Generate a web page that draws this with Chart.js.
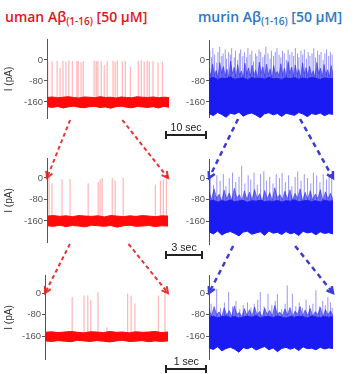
<!DOCTYPE html>
<html>
<head>
<meta charset="utf-8">
<script src="https://cdn.jsdelivr.net/npm/chart.js@4.4.0/dist/chart.umd.min.js"></script>
<style>
  html, body { margin: 0; padding: 0; background: #fff; }
  body { width: 360px; height: 374px; overflow: hidden; position: relative; font-family: "Liberation Sans", Arial, sans-serif; }
  canvas.panel { position: absolute; }
  #overlay { position: absolute; left: 0; top: 0; pointer-events: none; }
  .title { position: absolute; top: 9px; font-family: "Open Sans", sans-serif; font-weight: 600; font-size: 14px; line-height: 16px; white-space: nowrap; }
  .title span.sub { font-size: 10px; position: relative; top: 3px; }
  .sbar { position: absolute; height: 2px; background: #222; }
  .sbar::before, .sbar::after { content: ""; position: absolute; top: -3px; width: 2px; height: 8px; background: #222; }
  .sbar::before { left: 0; }
  .sbar::after { right: 0; }
  .slabel { position: absolute; text-align: center; font-size: 10.5px; color: #222; }
</style>
</head>
<body>
<div class="title" style="left:5px;color:#e3161c">uman Aβ<span class="sub">(1-16)</span> [50 µM]</div>
<div class="title" style="left:198px;color:#2b78c2">murin Aβ<span class="sub">(1-16)</span> [50 µM]</div>
<canvas id="overlay" width="360" height="374"></canvas>
<script>
// y ticks shown on every trace (pA)
const yTicks = [-160, -80, 0];

// ---- human Abeta, red traces: spike times (s), spike tips (pA), noise band edges (pA)
const redTopT = [0.2,1.2,2.4,3.1,3.8,4.5,5.2,6.0,7.1,7.4,8.1,8.6,11.2,11.7,12.1,12.9,13.6,14.3,15.7,16.2,16.7,17.9,18.6,19.8,21.7,22.4,23.1,23.8,24.3,25.2,26.4,27.4];
const redTopY = [-2,-5,-4,-30,-3,-6,-2,-4,-5,-3,-8,-4,-2,-6,-3,-5,-20,-4,-3,-7,-2,-5,-3,-25,-4,-2,-6,-3,-5,-4,-10,-6];
const redTopHi = [-143,-141,-144,-142,-140,-143,-145,-141,-142,-144,-140,-143,-142,-145,-141,-143,-144,-140,-142,-143,-141,-144,-142,-143];
const redTopLo = [-178,-181,-177,-183,-179,-176,-180,-182,-178,-177,-181,-179,-184,-178,-176,-180,-182,-177,-179,-181,-178,-183,-177,-180];

const redMidT = [0.16,0.39,1.18,1.81,3.23,4.02,4.17,4.33,5.12,5.35,5.98,8.5,8.9,9.13,9.37];
const redMidY = [3,-20,-5,-5,-20,-15,-5,0,0,-10,0,-25,-10,-5,0];
const redMidHi = [-142,-140,-143,-141,-144,-140,-142,-143,-141,-145,-140,-142,-144,-141,-143,-140,-142,-144,-141,-142];
const redMidLo = [-178,-180,-176,-181,-177,-179,-182,-176,-178,-180,-177,-183,-178,-176,-180,-179,-177,-181,-178,-179];

const redBotT = [0.64,0.92,1.01,1.08,1.25,1.46,1.95,2.03,2.12,2.67,2.83];
const redBotY = [-15,-9,-9,-27,4,-128,-2,-9,-39,-9,4];
const redBotHi = [-146,-144,-147,-145,-143,-146,-148,-144,-145,-147,-143,-146,-145,-148,-144,-146,-145,-143,-147,-145];
const redBotLo = [-178,-180,-177,-179,-181,-176,-178,-180,-177,-179,-182,-178,-176,-180,-179,-177,-181,-178,-180,-178];

// ---- murine Abeta, blue traces (fringe = dense openings just above the band)
const blueTopT = [0.2,0.6,0.9,1.3,1.8,2.1,2.5,3.0,3.3,3.8,4.1,4.6,5.0,5.3,5.9,6.2,6.7,7.1,7.4,7.9,8.3,8.8,9.1,9.6,10.0,10.4,10.9,11.2,11.7,12.1,12.6,13.0,13.3,13.8,14.3,14.6,15.1,15.5,15.9,16.4,16.8,17.2,17.6,18.1,18.5,18.9,19.4,19.8,20.2,20.7,21.0,21.5,21.9,22.3,22.8,23.2,23.6,24.1,24.5,24.9,25.4,25.8,26.2,26.7,27.1,27.5,28.0,28.4,28.8];
const blueTopY = [35,10,45,20,-10,30,50,15,25,40,5,30,20,45,10,35,0,25,40,15,30,10,45,20,35,-5,25,15,40,30,10,20,50,25,5,35,15,30,45,20,10,35,25,0,40,20,30,15,45,25,10,35,20,40,5,30,15,25,45,10,35,20,30,0,25,40,15,30,20];
const blueTopFringe = [-30,-62,-15,-55,-40,-68,-10,-50,-25,-60,-35,-70,-5,-52,-28,-64,-18,-58,-42,-66,-12,-54,-30,-61,-20,-57,-38,-69,-8,-50,-26,-63,-16,-56,-34,-67,-22,-53,-44,-60,-14,-58,-32,-65,-6,-51,-27,-62,-19,-55,-36,-68,-11,-53,-29,-60,-24,-57,-41,-66,-9,-52,-31,-63,-17,-56,-37,-64,-21,-58];
const blueTopHi = [-72,-66,-74,-69,-71,-65,-73,-70,-68,-75,-67,-71,-69,-73,-66,-72,-70,-74,-68,-71,-67,-73,-69,-72,-66,-70,-74,-68,-71,-70];
const blueTopLo = [-204,-212,-200,-208,-218,-203,-207,-199,-214,-206,-202,-210,-220,-205,-201,-209,-204,-215,-203,-207,-211,-200,-206,-216,-204,-208,-202,-212,-205,-207];

const blueMidT = [0.1,0.35,0.6,0.85,1.1,1.3,1.55,1.8,2.05,2.3,2.5,2.75,3.0,3.2,3.45,3.7,3.95,4.2,4.4,4.65,4.9,5.15,5.4,5.6,5.85,6.1,6.35,6.6,6.8,7.05,7.3,7.55,7.8,8.0,8.25,8.5,8.75,9.0,9.2,9.4];
const blueMidY = [5,-25,10,-10,15,-30,0,20,-15,5,45,-20,10,-5,20,-25,15,25,-10,5,-20,15,0,20,-15,10,-30,5,25,-10,15,0,-20,20,10,-15,15,-5,10,0];
const blueMidFringe = [-50,-80,-40,-75,-60,-85,-45,-78,-55,-82,-38,-74,-62,-84,-48,-79,-52,-81,-42,-76,-58,-86,-46,-77,-54,-83,-36,-73,-61,-80,-49,-78,-44,-82,-57,-75,-40,-84,-53,-79,-47,-81,-59,-76,-43,-83,-51,-77,-56,-80];
const blueMidHi = [-86,-82,-89,-84,-87,-81,-88,-85,-83,-90,-84,-86,-82,-88,-85,-87,-83,-89,-84,-86,-81,-88,-85,-83,-87,-84,-89,-82,-86,-85];
const blueMidLo = [-200,-208,-197,-212,-203,-199,-206,-215,-201,-198,-209,-204,-200,-213,-197,-205,-202,-210,-199,-207,-203,-214,-198,-204,-201,-211,-200,-206,-203,-208];

const blueBotT = [0.05,0.18,0.27,0.36,0.46,0.55,0.63,0.72,0.8,0.9,0.98,1.06,1.14,1.2,1.29,1.38,1.47,1.55,1.6,1.7,1.78,1.83,1.95,2.03,2.11,2.19,2.27,2.35,2.43,2.5,2.58,2.66,2.72,2.78,2.84,2.88];
const blueBotY = [-40,15,-55,-35,4,-50,-30,-60,-45,-35,-55,-40,-25,4,-50,-3,-45,-30,-3,-60,-40,28,-3,-50,-35,-55,-25,-45,-40,10,-50,-30,-45,-15,-35,-55];
const blueBotFringe = [-60,-85,-50,-80,-70,-88,-55,-82,-65,-86,-48,-79,-72,-87,-58,-83,-62,-85,-52,-81,-68,-89,-56,-80,-64,-86,-46,-78,-71,-84,-59,-82,-54,-87,-67,-79,-50,-85,-63,-83,-57,-86,-69,-80,-53,-88,-61,-81,-66,-84];
const blueBotHi = [-90,-86,-92,-88,-85,-91,-87,-93,-89,-86,-90,-84,-92,-88,-87,-91,-85,-89,-93,-87,-90,-86,-88,-92,-85,-89,-91,-87,-90,-88];
const blueBotLo = [-204,-210,-200,-215,-206,-202,-209,-220,-203,-207,-201,-212,-205,-199,-211,-204,-218,-206,-202,-209,-203,-214,-200,-207,-205,-211,-202,-208,-204,-206];

// time window that is expanded in the trace below (s)
const redTopZoom = [5.5, 17.9];
const redMidZoom = [1.8, 6.4];
const blueTopZoom = [6.8, 21.3];
const blueMidZoom = [1.85, 6.6];

// scale bars (s)
const scaleBarSec = [10, 3, 1];

const RED = { band: '#ff0a0a', spike: 'rgba(255,45,45,0.42)', fringe: null, base: -160, arrow: 'rgba(232,30,30,0.9)' };
const BLUE = { band: '#1a1af2', spike: 'rgba(50,50,240,0.5)', fringe: 'rgba(35,35,238,0.62)', base: -130, arrow: '#3b3bd6' };

function spread(arr, dur) {
  const step = dur / (arr.length - 1);
  return arr.map((v, i) => ({ x: i * step, y: v }));
}

function buildPanel(p) {
  const cv = document.createElement('canvas');
  cv.className = 'panel';
  cv.width = p.axisW + p.w;
  cv.height = p.h;
  cv.style.left = (p.axisX - p.axisW) + 'px';
  cv.style.top = p.top + 'px';
  document.body.insertBefore(cv, document.getElementById('overlay'));

  const spikes = [];
  p.t.forEach((t, i) => {
    spikes.push({ x: t, y: p.col.base }, { x: t, y: p.y[i] }, { x: t, y: null });
  });

  const datasets = [
    { data: spread(p.lo, p.dur), borderColor: p.col.band, backgroundColor: p.col.band, borderWidth: 1, pointRadius: 0, fill: false, order: 1 },
    { data: spread(p.hi, p.dur), borderColor: p.col.band, backgroundColor: p.col.band, borderWidth: 1, pointRadius: 0, fill: 0, order: 1 },
    { data: spikes, borderColor: p.col.spike, borderWidth: 1, pointRadius: 0, fill: false, spanGaps: false, order: 3 }
  ];
  if (p.fringe) {
    datasets.push({ data: spread(p.fringe, p.dur), borderColor: p.col.fringe, backgroundColor: p.col.fringe, borderWidth: 0.8, pointRadius: 0, fill: 1, order: 2 });
  }

  return new Chart(cv, {
    type: 'line',
    data: { datasets },
    options: {
      responsive: false,
      animation: false,
      events: [],
      layout: { padding: 0 },
      plugins: { legend: { display: false }, tooltip: { enabled: false } },
      scales: {
        x: { type: 'linear', display: false, min: 0, max: p.dur, offset: false },
        y: {
          min: p.min, max: p.max,
          afterBuildTicks: s => { s.ticks = yTicks.map(v => ({ value: v })); },
          afterFit: s => { s.width = p.axisW; s.paddingTop = 0; s.paddingBottom = 0; },
          ticks: { font: { size: 9.5 }, color: '#555', padding: 1 },
          grid: { drawOnChartArea: false, tickLength: 3, color: '#555' },
          border: { display: true, color: '#555', width: 1 },
          title: { display: p.label, text: 'I (pA)', font: { size: 10 }, color: '#333', padding: { top: 3, bottom: 0 } }
        }
      }
    }
  });
}

const charts = {
  rTop: buildPanel({ t: redTopT, y: redTopY, hi: redTopHi, lo: redTopLo, dur: 29, col: RED, label: true, axisX: 47, axisW: 47, top: 39, w: 122, h: 80, min: -225, max: 80 }),
  rMid: buildPanel({ t: redMidT, y: redMidY, hi: redMidHi, lo: redMidLo, dur: 9.5, col: RED, label: true, axisX: 47, axisW: 47, top: 158, w: 121, h: 85, min: -242, max: 74 }),
  rBot: buildPanel({ t: redBotT, y: redBotY, hi: redBotHi, lo: redBotLo, dur: 2.9, col: RED, label: true, axisX: 45, axisW: 45, top: 275, w: 123, h: 85, min: -249, max: 67 }),
  bTop: buildPanel({ t: blueTopT, y: blueTopY, fringe: blueTopFringe, hi: blueTopHi, lo: blueTopLo, dur: 29, col: BLUE, label: false, axisX: 209, axisW: 29, top: 40, w: 124, h: 78, min: -221, max: 76 }),
  bMid: buildPanel({ t: blueMidT, y: blueMidY, fringe: blueMidFringe, hi: blueMidHi, lo: blueMidLo, dur: 9.5, col: BLUE, label: false, axisX: 209, axisW: 29, top: 159, w: 124, h: 86, min: -249, max: 71 }),
  bBot: buildPanel({ t: blueBotT, y: blueBotY, fringe: blueBotFringe, hi: blueBotHi, lo: blueBotLo, dur: 2.9, col: BLUE, label: false, axisX: 209, axisW: 29, top: 275, w: 124, h: 85, min: -249, max: 67 })
};

// position of a chart-space point on the page
function pagePt(chart, xv, yPix) {
  const cv = chart.canvas;
  return { x: cv.offsetLeft + chart.scales.x.getPixelForValue(xv), y: cv.offsetTop + yPix };
}

// dashed zoom arrows
const ov = document.getElementById('overlay').getContext('2d');
function arrow(a, b, color, width, dash) {
  ov.save();
  ov.strokeStyle = color;
  ov.lineWidth = width;
  ov.setLineDash(dash);
  ov.beginPath();
  ov.moveTo(a.x, a.y);
  ov.lineTo(b.x, b.y);
  ov.stroke();
  const ang = Math.atan2(b.y - a.y, b.x - a.x);
  ov.setLineDash([]);
  ov.beginPath();
  ov.moveTo(b.x - 7 * Math.cos(ang - 0.5), b.y - 7 * Math.sin(ang - 0.5));
  ov.lineTo(b.x, b.y);
  ov.lineTo(b.x - 7 * Math.cos(ang + 0.5), b.y - 7 * Math.sin(ang + 0.5));
  ov.stroke();
  ov.restore();
}
function zoomArrows(upper, lower, win, col, width, dash) {
  const yStart = upper.chartArea.bottom + 1;
  const y0 = lower.scales.y.getPixelForValue(0);
  arrow(pagePt(upper, win[0], yStart), pagePt(lower, 0, y0), col, width, dash);
  arrow(pagePt(upper, win[1], yStart), pagePt(lower, lower.scales.x.max, y0), col, width, dash);
}
zoomArrows(charts.rTop, charts.rMid, redTopZoom, RED.arrow, 2, [4, 3]);
zoomArrows(charts.rMid, charts.rBot, redMidZoom, RED.arrow, 2, [4, 3]);
zoomArrows(charts.bTop, charts.bMid, blueTopZoom, BLUE.arrow, 2.5, [5, 4]);
zoomArrows(charts.bMid, charts.bBot, blueMidZoom, BLUE.arrow, 2.5, [5, 4]);

// time scale bars, sized from the left trace of each row
const barRows = [charts.rTop, charts.rMid, charts.rBot];
const barY = [135, 255, 369];
barRows.forEach((c, i) => {
  const w = c.scales.x.getPixelForValue(scaleBarSec[i]) - c.scales.x.getPixelForValue(0);
  const left = 165;
  const bar = document.createElement('div');
  bar.className = 'sbar';
  bar.style.left = left + 'px';
  bar.style.top = (barY[i] - 1) + 'px';
  bar.style.width = w + 'px';
  document.body.appendChild(bar);
  const lab = document.createElement('div');
  lab.className = 'slabel';
  lab.style.left = left + 'px';
  lab.style.width = w + 'px';
  lab.style.top = (barY[i] - 14) + 'px';
  lab.textContent = scaleBarSec[i] + ' sec';
  document.body.appendChild(lab);
});
</script>
</body>
</html>
